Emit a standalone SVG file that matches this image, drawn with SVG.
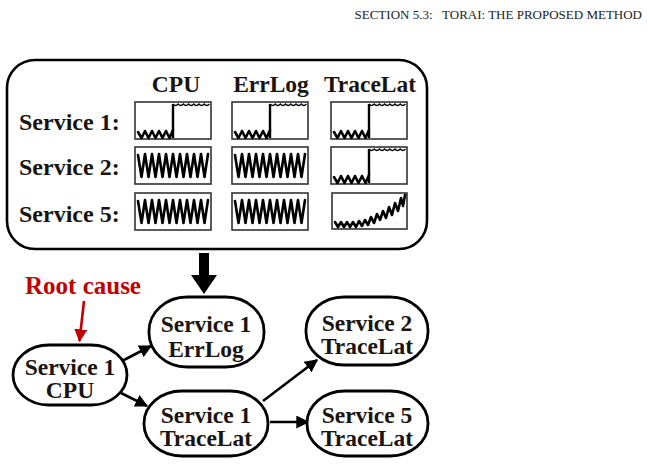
<svg xmlns="http://www.w3.org/2000/svg" xmlns:xlink="http://www.w3.org/1999/xlink" width="648" height="464" viewBox="0 0 648 464">
<style>
.hdr{font-family:"Liberation Serif","Times New Roman",serif;font-size:13px;fill:#222;white-space:pre}
.lbl{font-family:"Liberation Serif","Times New Roman",serif;font-weight:bold;font-size:24px;fill:#1a1410}
.nt{font-family:"Liberation Serif","Times New Roman",serif;font-weight:bold;font-size:23.5px;fill:#1a1410;text-anchor:middle}
.box{fill:#fff;stroke:#333;stroke-width:1.6}
.sig{fill:none;stroke:#000;stroke-width:2.6;stroke-linejoin:round;stroke-linecap:round}
.thin{fill:none;stroke:#000;stroke-width:1.3}
.node{fill:#fff;stroke:#000;stroke-width:2.8}
.edge{fill:none;stroke:#000;stroke-width:2.6}
</style>
<defs>
<marker id="ah" viewBox="0 0 10 10" refX="9" refY="5" markerWidth="5" markerHeight="5" orient="auto" markerUnits="strokeWidth">
<path d="M0,0 L10,5 L0,10 z" fill="#000"/>
</marker>
<marker id="ahr" viewBox="0 0 10 10" refX="9" refY="5" markerWidth="5" markerHeight="5" orient="auto" markerUnits="strokeWidth">
<path d="M0,0 L10,5 L0,10 z" fill="#c00000"/>
</marker>
<g id="stepChart">
<rect class="box" x="0" y="0" width="76" height="37"/>
<polyline class="sig" points="3,30 6.5,36 10,29 13.5,36 17,29 20.5,36 24,29 27.5,36 31,29 34.5,36 38,28"/>
<line x1="38" y1="36" x2="38" y2="2" stroke="#000" stroke-width="2.4"/>
<path class="thin" d="M38,2 q2.6,3 5.2,0 q2.6,3 5.2,0 q2.6,3 5.2,0 q2.6,3 5.2,0 q2.6,3 5.2,0 q2.6,3 5.2,0 q2.6,3 5.2,0"/>
</g>
<g id="oscChart">
<rect class="box" x="0" y="0" width="76" height="37"/>
<polyline class="sig" points="3,8 6.5,30 10,7 13.5,30 17,7 20.5,30 24,7 27.5,30 31,7 34.5,30 38,7 41.5,30 45,7 48.5,30 52,7 55.5,30 59,7 62.5,30 66,7 69.5,30 73,7"/>
</g>
<g id="riseChart">
<rect class="box" x="0" y="0" width="75" height="36"/>
<polyline class="sig" points="3,29 6,34 9,29 12,34 15,29 18,34 21,29 24,34 27,28 30,33 33,27 36,32 39,24 42,30 45,21 48,27 51,18 54,25 57,14 60,22 63,10 66,18 69,5 71,13 73,2"/>
</g>
</defs>

<text class="hdr" x="642" y="19" text-anchor="end">SECTION 5.3:   TORAI: THE PROPOSED METHOD</text>

<g id="metrics-panel">
<rect x="7" y="60" width="420" height="189" rx="28" ry="28" fill="#fff" stroke="#000" stroke-width="2.6"/>
<text class="nt" x="176" y="92" font-size="24px">CPU</text>
<text class="nt" x="271" y="92" font-size="24px">ErrLog</text>
<text class="nt" x="370" y="92" font-size="24px">TraceLat</text>
<text class="lbl" x="19" y="130">Service 1:</text>
<text class="lbl" x="19" y="175">Service 2:</text>
<text class="lbl" x="19" y="222">Service 5:</text>
<use xlink:href="#stepChart" x="135" y="102"/>
<use xlink:href="#stepChart" x="232" y="102"/>
<use xlink:href="#stepChart" x="331" y="102"/>
<use xlink:href="#oscChart" x="135" y="147"/>
<use xlink:href="#oscChart" x="232" y="147"/>
<use xlink:href="#stepChart" x="331" y="147"/>
<use xlink:href="#oscChart" x="135" y="193"/>
<use xlink:href="#oscChart" x="232" y="193"/>
<use xlink:href="#riseChart" x="332" y="193"/>
</g>

<g id="big-arrow">
<path d="M199,253 H209 V275 H217 L204,294 L191,275 H199 Z" fill="#000"/>
</g>

<g id="root-cause">
<text x="25" y="294" font-family="'Liberation Serif','Times New Roman',serif" font-weight="bold" font-size="25px" fill="#c00000">Root cause</text>
<line x1="84" y1="301" x2="79.5" y2="341" stroke="#c00000" stroke-width="2.6" marker-end="url(#ahr)"/>
</g>

<g id="connectors">
<line class="edge" x1="122" y1="361" x2="151" y2="346" marker-end="url(#ah)"/>
<line class="edge" x1="121" y1="393" x2="147" y2="406" marker-end="url(#ah)"/>
<line class="edge" x1="263" y1="401" x2="317" y2="360" marker-end="url(#ah)"/>
<line class="edge" x1="270" y1="422" x2="308" y2="422" marker-end="url(#ah)"/>
</g>

<g id="n-s1cpu">
<rect class="node" x="13" y="345" width="114" height="60" rx="36" ry="30"/>
<text class="nt" x="70" y="375">Service 1</text>
<text class="nt" x="70" y="398">CPU</text>
</g>
<g id="n-s1errlog">
<rect class="node" x="149" y="297" width="115" height="70" rx="38" ry="34"/>
<text class="nt" x="206" y="332">Service 1</text>
<text class="nt" x="206" y="357">ErrLog</text>
</g>
<g id="n-s1tracelat">
<rect class="node" x="144" y="391" width="124" height="65" rx="38" ry="32"/>
<text class="nt" x="206" y="423">Service 1</text>
<text class="nt" x="206" y="446">TraceLat</text>
</g>
<g id="n-s2tracelat">
<rect class="node" x="306" y="297" width="122" height="68" rx="38" ry="33"/>
<text class="nt" x="367" y="331">Service 2</text>
<text class="nt" x="367" y="354">TraceLat</text>
</g>
<g id="n-s5tracelat">
<rect class="node" x="307" y="391" width="121" height="65" rx="38" ry="32"/>
<text class="nt" x="367" y="423">Service 5</text>
<text class="nt" x="367" y="446">TraceLat</text>
</g>
</svg>
